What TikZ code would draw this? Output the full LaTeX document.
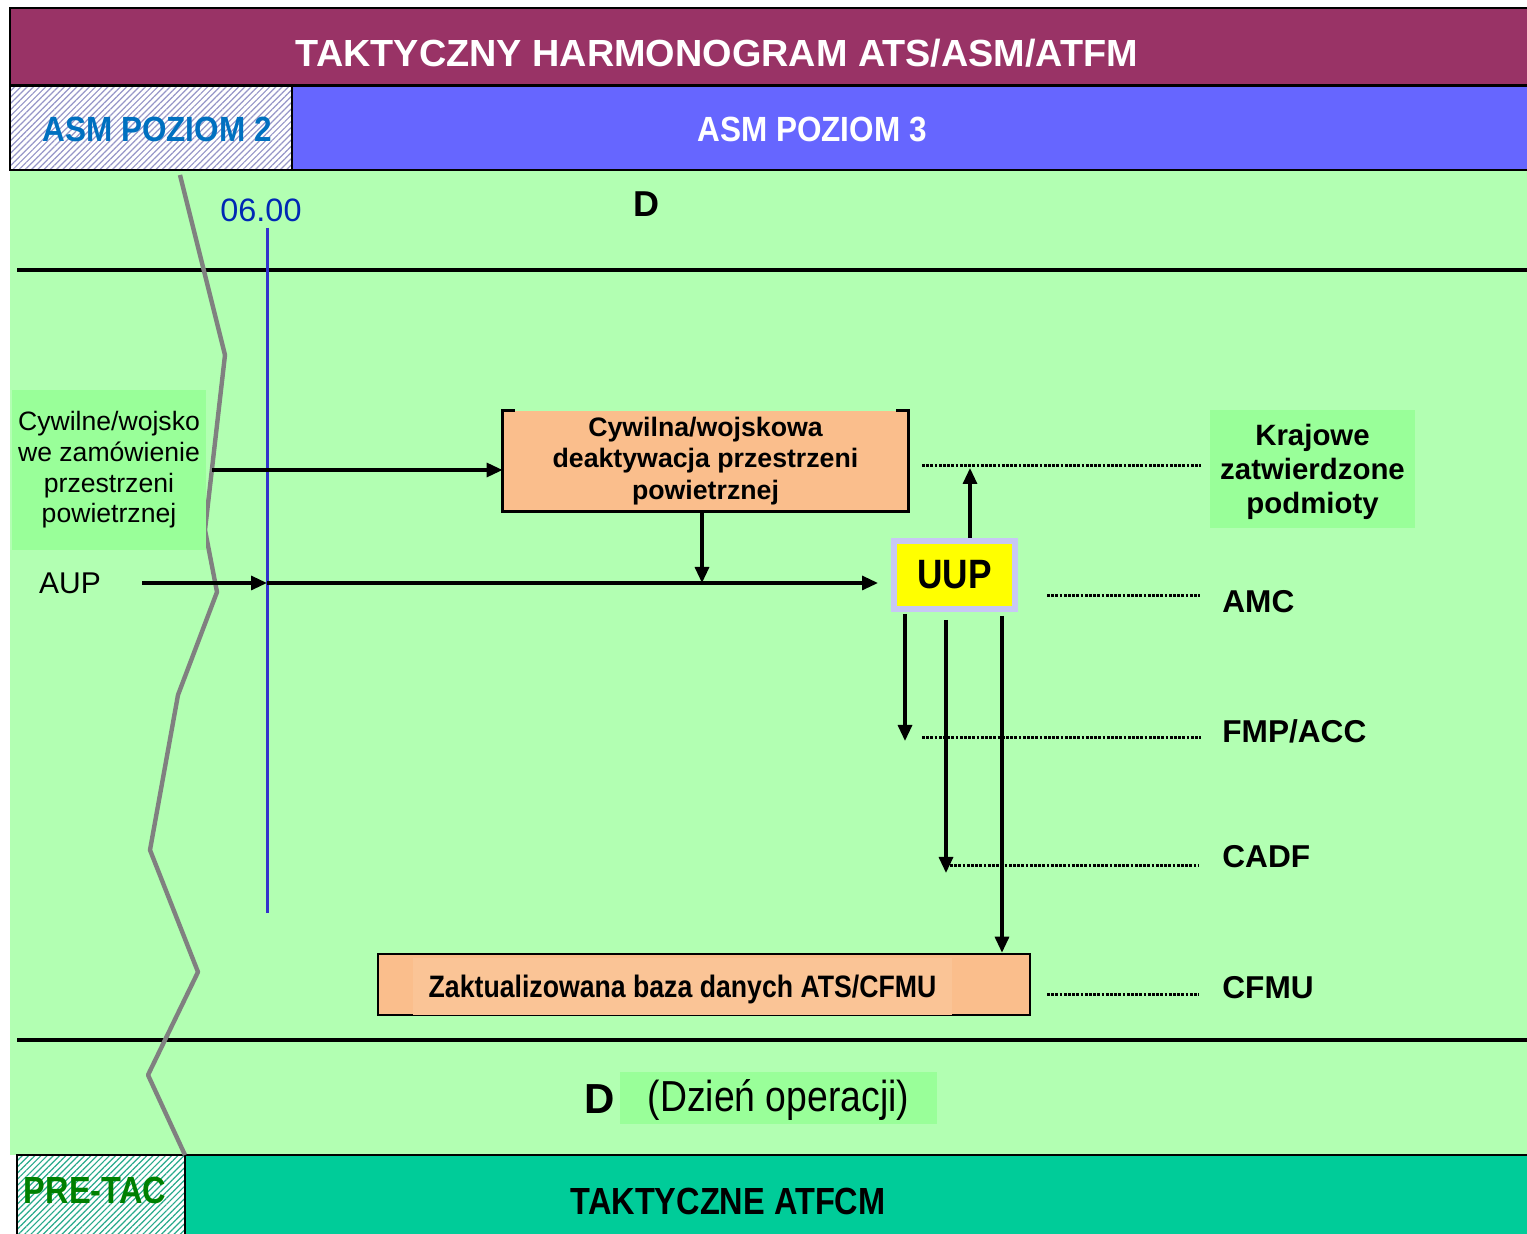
\documentclass[tikz,border=0pt]{standalone}
\usepackage{fontspec}
\setmainfont{Liberation Sans}
\newfontfamily\narrowsans[FakeStretch=0.86]{Liberation Sans}
\newfontfamily\semisans[FakeStretch=0.9]{Liberation Sans}
\usetikzlibrary{arrows.meta,patterns.meta}
\definecolor{plum}{RGB}{153,51,102}
\definecolor{bandblue}{RGB}{102,102,255}
\definecolor{bggreen}{RGB}{178,255,178}
\definecolor{boxgreen}{RGB}{153,255,153}
\definecolor{peach}{RGB}{250,190,140}
\definecolor{peachlight}{RGB}{250,196,150}
\definecolor{tealband}{RGB}{0,204,153}
\definecolor{asmblue}{RGB}{0,112,192}
\definecolor{timeblue}{RGB}{0,40,180}
\definecolor{lineblue}{RGB}{51,51,204}
\definecolor{lavender}{RGB}{200,200,245}
\definecolor{uupyellow}{RGB}{255,255,0}
\definecolor{zigzag}{RGB}{128,128,128}
\definecolor{pretac}{RGB}{0,128,0}
\definecolor{hatchgray}{RGB}{150,150,200}
\definecolor{hatchteal}{RGB}{40,170,140}
\tikzset{
  flow/.style={line width=1.6pt,-{Triangle[length=8pt,width=7pt]}},
  plainline/.style={line width=1.6pt},
  leader/.style={line width=1.5pt,dash pattern=on 1.4pt off 0.7pt},
  rolelabel/.style={anchor=west,font=\bfseries\fontsize{15.8}{18}\selectfont,inner sep=0pt},
  greenbox/.style={fill=boxgreen,inner sep=0pt,align=center},
  plaintext/.style={inner sep=0pt,align=center},
}
\begin{document}
\begin{tikzpicture}[x=0.5pt,y=-0.5pt]
\useasboundingbox (0,0) rectangle (1527,1234);
\fill[white] (0,0) rectangle (1527,1234);

% body of the timeline
\fill[bggreen] (10,170) rectangle (1527,1155);

% title band
\draw[fill=plum,line width=1.2pt] (10,8) rectangle (1540,85);
\node[text=white,font=\bfseries\fontsize{18.9}{22}\selectfont] (title) at (717,53) {TAKTYCZNY HARMONOGRAM ATS/ASM/ATFM};

% ASM level band
\fill[white] (10,86) rectangle (292,170);
\fill[pattern={Lines[angle=45,distance=2.2pt,line width=0.6pt]},pattern color=hatchgray] (10,86) rectangle (292,170);
\draw[fill=bandblue,line width=1.2pt] (292,86) rectangle (1540,170);
\draw[line width=1.2pt] (10,86) rectangle (292,170);
\node[text=asmblue,font=\semisans\bfseries\fontsize{17.5}{20}\selectfont] (asm2) at (157,129) {ASM POZIOM 2};
\node[text=white,font=\semisans\bfseries\fontsize{17.5}{20}\selectfont] (asm3) at (812,129) {ASM POZIOM 3};

% day separators
\draw[line width=2pt] (17,270) -- (1540,270);
\draw[line width=2pt] (17,1040) -- (1540,1040);

% bottom band
\fill[white] (17,1155) rectangle (185,1240);
\fill[pattern={Lines[angle=45,distance=2.2pt,line width=0.6pt]},pattern color=hatchteal] (17,1155) rectangle (185,1240);
\fill[tealband] (185,1155) rectangle (1540,1240);
\draw[line width=1pt] (17,1240) -- (17,1155) -- (1540,1155);
\draw[line width=1pt] (185,1155) -- (185,1240);
\node[text=pretac,font=\narrowsans\bfseries\fontsize{18.9}{21}\selectfont] (pretac) at (95,1190) {PRE-TAC};
\node[font=\narrowsans\bfseries\fontsize{18.9}{21}\selectfont] (tactical) at (728,1201) {TAKTYCZNE ATFCM};

% boundary zigzag
\draw[zigzag,line width=2.2pt,line join=round]
  (180,175) -- (225,355) -- (205,530) -- (217,592) -- (178,695) -- (150,850)
  -- (198,972) -- (148,1075) -- (185,1155);

% 06.00 time marker
\node[text=timeblue,font=\fontsize{16.2}{18}\selectfont] (t0600) at (261,210) {06.00};
\coordinate (tTop) at (267,228);
\coordinate (tBot) at (267,913);
\draw[lineblue,line width=1.5pt] (tTop) -- (tBot);

% day labels
\node[font=\bfseries\fontsize{18}{20}\selectfont] (dTop) at (646,204) {D};
\node[font=\bfseries\fontsize{21}{23}\selectfont] (dBot) at (600,1099) {D};
\node[greenbox,minimum width=317*0.5pt,minimum height=52*0.5pt] (opday) at (778.5,1098) {};
\node[plaintext,font=\narrowsans\fontsize{21.7}{23}\selectfont] (opdayText) at (778.5,1100) {(Dzień operacji)};

% request for airspace
\node[greenbox,minimum width=194*0.5pt,minimum height=160*0.5pt,font=\fontsize{13.3}{15.3}\selectfont] (request) at (109,470)
  {Cywilne/wojsko\\we zamówienie\\przestrzeni\\powietrznej};
\node[font=\fontsize{15}{17}\selectfont] (aup) at (70,583) {AUP};

% deactivation box (open top edge with corner ticks)
\node[fill=peach,minimum width=405*0.5pt,minimum height=100*0.5pt,align=center,inner sep=0pt,
      font=\bfseries\fontsize{13.35}{15.6}\selectfont] (deact) at (705.5,461)
  {Cywilna/wojskowa\\deaktywacja przestrzeni\\powietrznej};
\draw[line width=1.3pt] ([xshift=6pt]deact.north west) -- (deact.north west) -- (deact.south west)
  -- (deact.south east) -- (deact.north east) -- ([xshift=-6pt]deact.north east);

% UUP
\node[fill=uupyellow,draw=lavender,line width=3pt,minimum width=121*0.5pt,minimum height=68*0.5pt,inner sep=0pt,
      font=\narrowsans\bfseries\fontsize{20.5}{23}\selectfont] (uup) at (954.5,575) {UUP};

% national approved entities
\node[greenbox,minimum width=205*0.5pt,minimum height=118*0.5pt] (entities) at (1312.5,469) {};
\node[plaintext,font=\bfseries\fontsize{14.7}{17}\selectfont] (entitiesText) at (1312.5,471.5)
  {Krajowe\\zatwierdzone\\podmioty};

% role labels
\node[rolelabel] (amc) at (1222,602) {AMC};
\node[rolelabel] (fmp) at (1222,731) {FMP/ACC};
\node[rolelabel] (cadf) at (1222,857) {CADF};
\node[rolelabel] (cfmu) at (1222,988) {CFMU};

% updated database box
\node[draw,line width=1.3pt,fill=peach,minimum width=652*0.5pt,minimum height=61*0.5pt,inner sep=0pt] (dbase) at (704,984.5) {};
\node[fill=peachlight,minimum width=539*0.5pt,minimum height=57*0.5pt,inner sep=0pt] (dbfill) at (682.5,986.5) {};
\node[plaintext,font=\narrowsans\bfseries\fontsize{15.5}{17}\selectfont] (dbtext) at (682.5,989) {Zaktualizowana baza danych ATS/CFMU};

% flows into the deactivation box and UUP
\coordinate (reqOut) at (212,470);
\draw[flow] (reqOut) -- (deact.west |- reqOut);
\coordinate (aupOut) at (142,583);
\coordinate (aupLine) at (267,583);
\coordinate (join) at (702,583);
\draw[flow] (aupOut) -- (aupLine);
\draw[plainline] (aupLine) -- (join);
\draw[flow] (join) -- (878,583);
\draw[flow] (deact.south -| join) -- (join);

% flows out of UUP
\coordinate (toEnt) at (970,468);
\draw[flow] (uup.north -| toEnt) -- (toEnt);
\coordinate (toFmp) at (905,741);
\coordinate (toCadf) at (946,873);
\draw[flow] ([yshift=-1pt]uup.south -| toFmp) -- (toFmp);
\draw[flow] ([yshift=-4pt]uup.south -| toCadf) -- (toCadf);
\draw[flow] ([yshift=-2pt]uup.south -| 1002,0) -- (dbase.north -| 1002,0);

% dotted leaders to the roles
\draw[leader] (922,466) -- (1201,466);
\draw[leader] (1047,596) -- (1200,596);
\draw[leader] (922,738) -- (1201,738);
\draw[leader] (950,866) -- (1199,866);
\draw[leader] (1047,995) -- (1199,995);
\end{tikzpicture}
\end{document}
